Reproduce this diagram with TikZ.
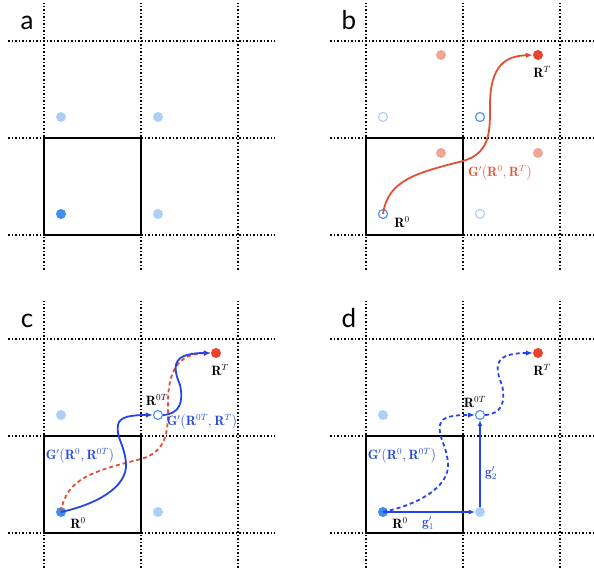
\documentclass[tikz,border=0pt]{standalone}
\usepackage{amsmath}
\usepackage{fontspec}
\newfontfamily\panelfont{Lato}
\usetikzlibrary{arrows.meta,positioning}

\definecolor{dotblue}{RGB}{62,142,240}
\definecolor{midblue}{RGB}{80,150,232}
\definecolor{paleblue}{RGB}{172,208,245}
\definecolor{darkred}{RGB}{234,67,45}
\definecolor{palered}{RGB}{240,165,150}
\definecolor{curvered}{RGB}{226,78,52}
\definecolor{curveblue}{RGB}{35,68,230}
\definecolor{lblred}{RGB}{226,88,62}
\definecolor{lblblue}{RGB}{40,75,220}

\tikzset{
  gridline/.style={dash pattern=on 1.5pt off 2pt, line width=1.1pt},
  cellbox/.style={line width=1.8pt},
  fulldot/.style={circle, inner sep=0pt, minimum size=10pt, fill=#1},
  opendot/.style={circle, inner sep=0pt, minimum size=9pt, draw=#1, line width=1.2pt, fill=white},
  lbl/.style={font=\fontsize{13.5}{15}\selectfont, inner sep=0pt},
  panel/.style={font=\panelfont\fontsize{26}{28}\selectfont, anchor=base, inner sep=0pt},
  redpath/.style={draw=curvered, line width=1.8pt, -{Latex[length=7pt,width=5.5pt]}},
  redpathdash/.style={redpath, dash pattern=on 4pt off 3pt},
  bluepath/.style={draw=curveblue, line width=1.8pt, -{Latex[length=7pt,width=5.5pt]}},
  bluepathdash/.style={bluepath, dash pattern=on 4pt off 3pt},
  steparrow/.style={draw=curveblue, line width=1.3pt, -{Latex[length=6pt,width=5pt]}},
}

\begin{document}
\begin{tikzpicture}[x=1pt, y=1pt]
  \useasboundingbox (0,0) rectangle (594,577);

  % grid, unit cell and letter of every panel
  \foreach \px/\py/\lab in {44/342/a, 366/342/b, 44/44/c, 366/44/d} {
    \begin{scope}[shift={(\px,\py)}]
      \foreach \k in {0,97,194} {
        \draw[gridline] (\k,-35) -- (\k,232);
        \draw[gridline] (-36,\k) -- (231,\k);
      }
      \draw[cellbox] (0,0) rectangle (97,97);
      \node[panel] (lbl\lab) at (-17,205) {\lab};
    \end{scope}
  }

  % a
  \begin{scope}[shift={(44,342)}]
    \node[fulldot=dotblue] (aR0) at (17,21) {};
    \node[fulldot=paleblue] (aP10) at (114,21) {};
    \node[fulldot=paleblue] (aP01) at (17,118) {};
    \node[fulldot=paleblue] (aP11) at (114,118) {};
  \end{scope}

  % b
  \begin{scope}[shift={(366,342)}]
    \node[opendot=midblue] (bR0) at (17,21) {};
    \node[opendot=paleblue] (bP10) at (114,21) {};
    \node[opendot=paleblue] (bP01) at (17,118) {};
    \node[opendot=midblue] (bP11) at (114,118) {};
    \node[fulldot=palered] (bQ00) at (75,82) {};
    \node[fulldot=palered] (bQ10) at (172,82) {};
    \node[fulldot=palered] (bQ01) at (75,180) {};
    \node[fulldot=darkred] (bRT) at (172,180) {};
    \draw[redpath] (bR0.center) .. controls (22,55) and (50,62) .. (97,74)
      .. controls (125,82) and (124,105) .. (124,130)
      .. controls (124,170) and (140,179) .. (bRT.west);
    \node[lbl] (bR0lbl) at (36,13) {$\mathbf{R}^0$};
    \node[lbl] (bRTlbl) at (176,163) {$\mathbf{R}^T$};
    \node[lbl, text=lblred] (bGlbl) at (134,62) {$\mathbf{G}'(\mathbf{R}^0,\mathbf{R}^T)$};
  \end{scope}

  % c
  \begin{scope}[shift={(44,44)}]
    \node[fulldot=dotblue] (cR0) at (17,21) {};
    \node[fulldot=paleblue] (cP10) at (114,21) {};
    \node[fulldot=paleblue] (cP01) at (17,118) {};
    \node[opendot=midblue] (cR0T) at (114,118) {};
    \node[fulldot=darkred] (cRT) at (172,180) {};
    \draw[redpathdash] (cR0.center) .. controls (22,55) and (50,62) .. (97,74)
      .. controls (125,82) and (124,105) .. (124,130)
      .. controls (124,170) and (140,179) .. (cRT.west);
    \draw[bluepath] (cR0.center) .. controls (50,28) and (84,45) .. (82,70)
      .. controls (80,90) and (72,95) .. (74,108)
      .. controls (75,117) and (90,118) .. (cR0T.west);
    \draw[bluepath] (cR0T.east) .. controls (135,119) and (140,130) .. (136,148)
      .. controls (131,160) and (128,172) .. (140,177)
      .. controls (148,180) and (158,180) .. (cRT.west);
    \node[lbl] (cR0lbl) at (34,10) {$\mathbf{R}^0$};
    \node[lbl] (cR0Tlbl) at (113,133) {$\mathbf{R}^{0T}$};
    \node[lbl] (cRTlbl) at (176,163) {$\mathbf{R}^T$};
    \node[lbl, text=lblblue] (cG1lbl) at (36,77) {$\mathbf{G}'(\mathbf{R}^0,\mathbf{R}^{0T})$};
    \node[lbl, text=lblblue] (cG2lbl) at (158,111) {$\mathbf{G}'(\mathbf{R}^{0T},\mathbf{R}^T)$};
  \end{scope}

  % d
  \begin{scope}[shift={(366,44)}]
    \node[fulldot=dotblue] (dR0) at (17,21) {};
    \node[fulldot=paleblue] (dP10) at (114,21) {};
    \node[fulldot=paleblue] (dP01) at (17,118) {};
    \node[opendot=midblue] (dR0T) at (114,118) {};
    \node[fulldot=darkred] (dRT) at (172,180) {};
    \draw[bluepathdash] (dR0.center) .. controls (50,28) and (84,45) .. (82,70)
      .. controls (80,90) and (72,95) .. (74,108)
      .. controls (75,117) and (90,118) .. (dR0T.west);
    \draw[bluepathdash] (dR0T.east) .. controls (135,119) and (140,130) .. (136,148)
      .. controls (131,160) and (128,172) .. (140,177)
      .. controls (148,180) and (158,180) .. (dRT.west);
    \draw[steparrow] (dR0.center) -- (dP10);
    \draw[steparrow] (dP10) -- (dR0T);
    \node[lbl] (dR0lbl) at (34,10) {$\mathbf{R}^0$};
    \node[lbl, text=lblblue] (dg1lbl) at (62,10) {$\mathbf{g}'_1$};
    \node[lbl, text=lblblue] (dg2lbl) at (125,60) {$\mathbf{g}'_2$};
    \node[lbl] (dR0Tlbl) at (109,131) {$\mathbf{R}^{0T}$};
    \node[lbl] (dRTlbl) at (176,163) {$\mathbf{R}^T$};
    \node[lbl, text=lblblue] (dGlbl) at (36,77) {$\mathbf{G}'(\mathbf{R}^0,\mathbf{R}^{0T})$};
  \end{scope}
\end{tikzpicture}
\end{document}
